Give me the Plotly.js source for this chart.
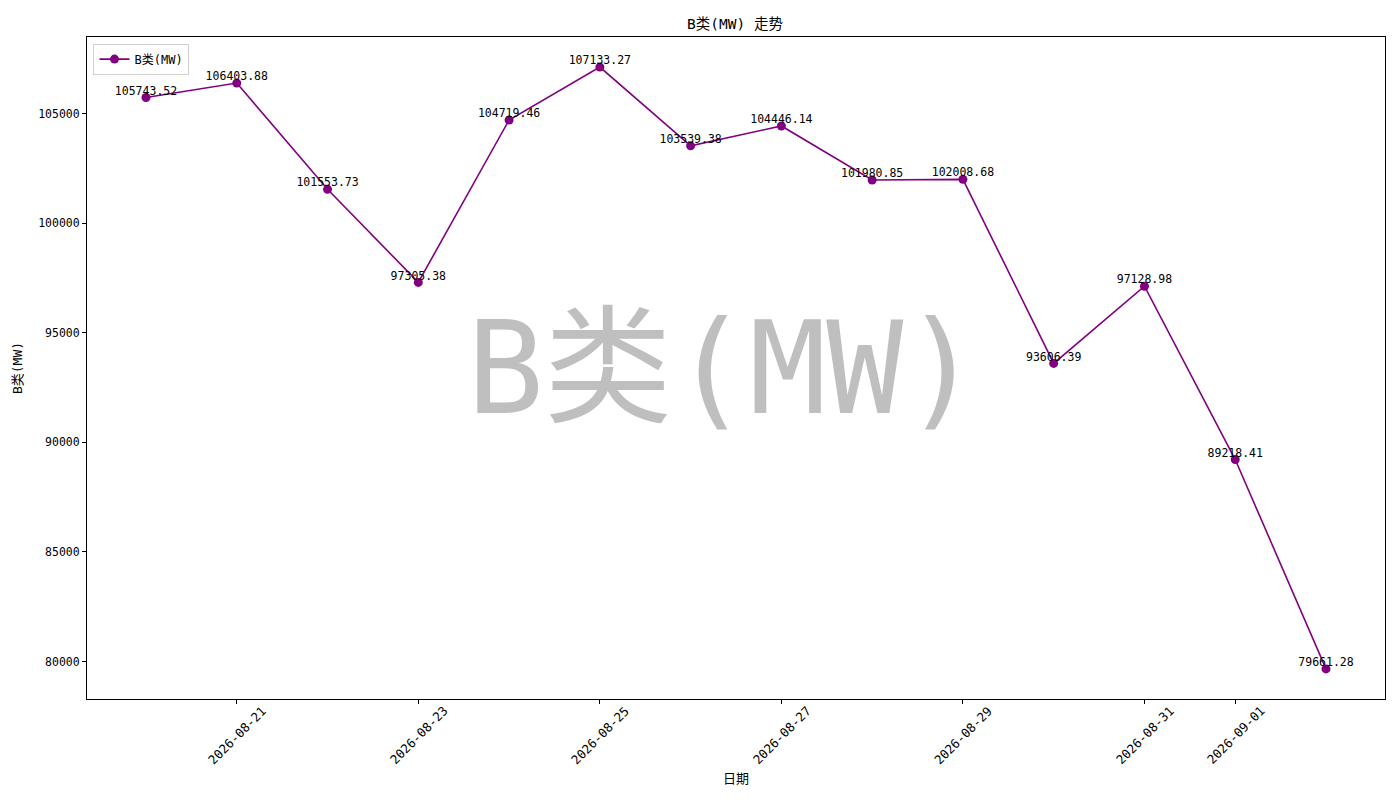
<!DOCTYPE html>
<html>
<head>
<meta charset="utf-8">
<script src="https://cdn.plot.ly/plotly-3.0.1.min.js"></script>
<style>body{margin:0;background:#fff}#plot{width:1400px;height:800px}</style>
</head>
<body>
<div id="plot"></div>
<script>
// Data
const dates = ['2026-08-20', '2026-08-21', '2026-08-22', '2026-08-23', '2026-08-24', '2026-08-25', '2026-08-26',
  '2026-08-27', '2026-08-28', '2026-08-29', '2026-08-30', '2026-08-31', '2026-09-01', '2026-09-02'];
const values = [105743.52, 106403.88, 101553.73, 97305.38, 104719.46, 107133.27, 103539.38,
  104446.14, 101980.85, 102008.68, 93606.39, 97128.98, 89218.41, 79661.28];
const tickDates = ['2026-08-21', '2026-08-23', '2026-08-25', '2026-08-27', '2026-08-29', '2026-08-31', '2026-09-01'];
const yTicks = [80000, 85000, 90000, 95000, 100000, 105000];

// half-width latin + CJK, close to SimHei look
const FONT = '"DejaVu Sans Mono", "Noto Sans CJK SC", sans-serif';
const lineColor = 'purple';

const series = {
  x: dates, y: values,
  type: 'scatter',
  mode: 'lines+markers',
  name: 'B类(MW)',
  line: { color: lineColor, width: 1.6 },
  marker: { color: lineColor, size: 9 }
};

const labels = {
  x: dates, y: values,
  type: 'scatter',
  mode: 'text',
  text: values.map(v => v.toFixed(2)),
  textposition: 'top center',
  textfont: { family: FONT, size: 11.5, color: 'black' },
  showlegend: false,
  hoverinfo: 'skip'
};

const axisCommon = {
  showgrid: false,
  zeroline: false,
  showline: true,
  linecolor: 'black',
  linewidth: 1,
  mirror: true,
  ticks: 'outside',
  ticklen: 4,
  tickcolor: 'black',
  tickfont: { family: FONT, size: 11.5, color: 'black' }
};

// rotated date labels centred under their ticks (matplotlib rotation=45 look)
const dateLabels = tickDates.map(d => ({
  text: d,
  x: d, xref: 'x',
  y: 0, yref: 'paper',
  xanchor: 'center', yanchor: 'middle',
  yshift: -36,
  textangle: -45,
  showarrow: false,
  font: { family: FONT, size: 12.5, color: 'black' }
}));

const layout = {
  width: 1400, height: 800,
  paper_bgcolor: 'white', plot_bgcolor: 'white',
  margin: { l: 87, r: 15, t: 37, b: 101 },
  title: { text: 'B类(MW) 走势', font: { family: FONT, size: 14.5, color: 'black' }, x: 0.525, y: 0.97, yanchor: 'middle' },
  xaxis: {
    ...axisCommon,
    type: 'date',
    range: ['2026-08-19 08:24', '2026-09-02 15:36'],
    tickvals: tickDates,
    showticklabels: false,
    title: { text: '日期', font: { family: FONT, size: 13, color: 'black' }, standoff: 70 }
  },
  yaxis: {
    ...axisCommon,
    range: [78287.7, 108506.9],
    tickvals: yTicks,
    ticktext: yTicks.map(String),
    title: { text: 'B类(MW)', font: { family: FONT, size: 13, color: 'black' }, standoff: 12 }
  },
  legend: {
    x: 0.005, y: 0.99, xanchor: 'left', yanchor: 'top',
    bgcolor: 'rgba(255,255,255,0.8)', bordercolor: '#d0d0d0', borderwidth: 1,
    font: { family: FONT, size: 12, color: 'black' }
  },
  annotations: [{
    text: 'B类(MW)',
    xref: 'paper', yref: 'paper', x: 0.49, y: 0.5,
    showarrow: false,
    font: { family: FONT, size: 128, color: 'rgba(128,128,128,0.5)' }
  }, ...dateLabels],
  showlegend: true
};

Plotly.newPlot('plot', [series, labels], layout, { staticPlot: true });
</script>
</body>
</html>
